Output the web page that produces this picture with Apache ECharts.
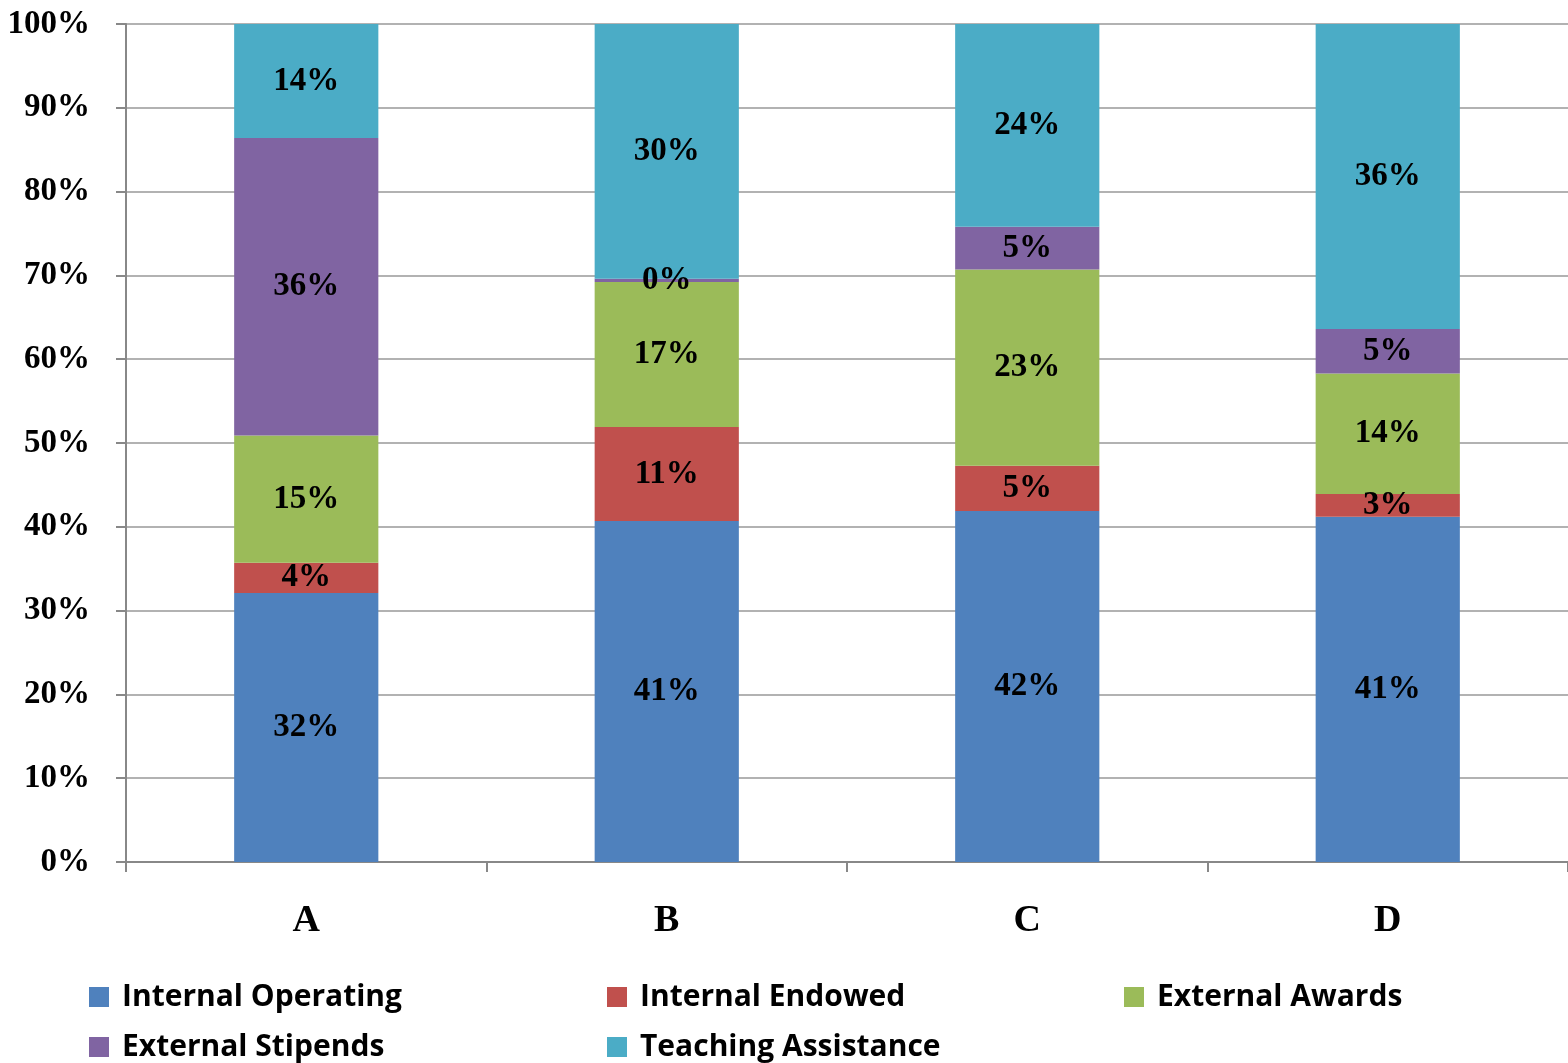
<!DOCTYPE html>
<html>
<head>
<meta charset="utf-8">
<script src="https://cdn.jsdelivr.net/npm/echarts@6/dist/echarts.min.js"></script>
<style>
  html, body { margin: 0; padding: 0; background: #fff; }
  #chart { width: 1568px; height: 1063px; }
</style>
</head>
<body>
<div id="chart"></div>
<script>
// 数据
var categories = ['A', 'B', 'C', 'D'];
var seriesNames = ['Internal Operating', 'Internal Endowed', 'External Awards', 'External Stipends', 'Teaching Assistance'];
var internalOperating = [32.1, 40.7, 41.9, 41.2];
var internalEndowed = [3.6, 11.2, 5.4, 2.7];
var externalAwards = [15.2, 17.3, 23.4, 14.4];
var externalStipends = [35.5, 0.4, 5.1, 5.3];
var teachingAssistance = [13.6, 30.4, 24.2, 36.4];
var colors = ['#4F81BD', '#C0504D', '#9BBB59', '#8064A2', '#4BACC6'];

var serif = '"Liberation Serif", "Times New Roman", serif';
var sans = '"Open Sans", Lato, sans-serif';

function makeSeries(name, data, color) {
    return {
        name: name,
        type: 'bar',
        stack: 'total',
        barWidth: '40%',
        data: data,
        itemStyle: { color: color },
        label: {
            show: true,
            position: 'inside',
            color: '#000',
            fontFamily: serif,
            fontWeight: 'bold',
            fontSize: 33,
            formatter: function (p) { return Math.round(p.value) + '%'; }
        }
    };
}

// 每个图例单独摆放，模拟三列布局
function legendItem(left, top, name) {
    return {
        left: left,
        top: top,
        padding: 0,
        itemWidth: 20,
        itemHeight: 20,
        icon: 'rect',
        data: [name],
        textStyle: {
            fontFamily: sans,
            fontWeight: 'bold',
            fontSize: 30,
            color: '#000',
            padding: [0, 0, 0, 8]
        }
    };
}

var option = {
    animation: false,
    color: colors,
    grid: { left: 126, width: 1446, top: 24, bottom: 201, containLabel: false },
    legend: [
        legendItem(89, 982, seriesNames[0]),
        legendItem(607, 982, seriesNames[1]),
        legendItem(1124, 982, seriesNames[2]),
        legendItem(89, 1032, seriesNames[3]),
        legendItem(607, 1032, seriesNames[4])
    ],
    xAxis: {
        type: 'category',
        data: categories,
        axisLine: { lineStyle: { color: '#888', width: 2 } },
        axisTick: { show: true, length: 10, lineStyle: { color: '#888', width: 2 } },
        axisLabel: {
            margin: 40,
            color: '#000',
            fontFamily: serif,
            fontWeight: 'bold',
            fontSize: 38
        }
    },
    yAxis: {
        type: 'value',
        min: 0,
        max: 100,
        interval: 10,
        axisLine: { show: true, lineStyle: { color: '#888', width: 2 } },
        axisTick: { show: true, length: 10, lineStyle: { color: '#888', width: 2 } },
        splitLine: { lineStyle: { color: '#999', width: 1.5 } },
        axisLabel: {
            margin: 36,
            color: '#000',
            fontFamily: serif,
            fontWeight: 'bold',
            fontSize: 33,
            formatter: '{value}%'
        }
    },
    series: [
        makeSeries(seriesNames[0], internalOperating, colors[0]),
        makeSeries(seriesNames[1], internalEndowed, colors[1]),
        makeSeries(seriesNames[2], externalAwards, colors[2]),
        makeSeries(seriesNames[3], externalStipends, colors[3]),
        makeSeries(seriesNames[4], teachingAssistance, colors[4])
    ]
};

var chart = echarts.init(document.getElementById('chart'));
chart.setOption(option);
</script>
</body>
</html>
